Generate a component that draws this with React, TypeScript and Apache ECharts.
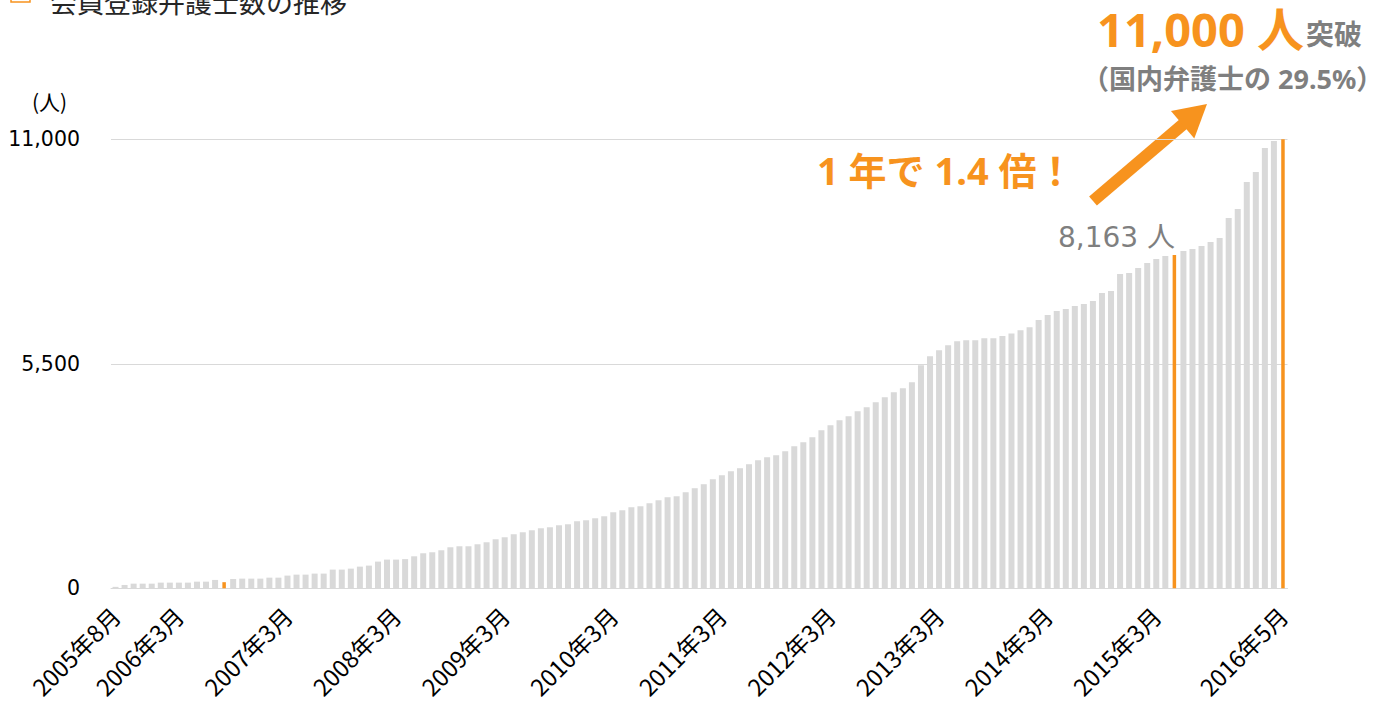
import React, { useEffect, useRef } from "react";
import * as echarts from "echarts";

const START_YEAR = 2005;
const START_MONTH = 8;

// Registered lawyers per month, 2005年8月 .. 2016年5月
const COUNTS: number[] = [
  35, 82, 114, 114, 114, 139, 139, 139, 139, 163,
  163, 205, 150, 228, 237, 237, 237, 261, 261, 311,
  335, 335, 360, 360, 458, 458, 482, 531, 556, 654,
  703, 703, 715, 784, 858, 883, 932, 1005, 1030, 1030,
  1079, 1128, 1201, 1250, 1324, 1373, 1422, 1471, 1495, 1544,
  1569, 1643, 1667, 1716, 1765, 1863, 1912, 1986, 2010, 2084,
  2157, 2231, 2255, 2353, 2452, 2550, 2672, 2770, 2868, 2942,
  3040, 3138, 3211, 3260, 3359, 3481, 3579, 3702, 3873, 3996,
  4118, 4217, 4339, 4437, 4560, 4682, 4805, 4903, 5050, 5467,
  5687, 5835, 5957, 6055, 6080, 6080, 6129, 6129, 6180, 6240,
  6320, 6398, 6570, 6693, 6791, 6840, 6913, 6962, 7036, 7232,
  7281, 7698, 7722, 7845, 7967, 8065, 8139, 8163, 8262, 8311,
  8384, 8482, 8580, 9071, 9291, 9953, 10198, 10787, 10958, 11040,
];

const HIGHLIGHT_MONTHS: string[] = ["2006年8月", "2015年5月", "2016年5月"];

const SHOWN_LABELS: string[] = [
  "2005年8月", "2006年3月", "2007年3月", "2008年3月", "2009年3月", "2010年3月",
  "2011年3月", "2012年3月", "2013年3月", "2014年3月", "2015年3月", "2016年5月",
];

const Y_TICKS: number[] = [0, 5500, 11000];

const TITLE = "会員登録弁護士数の推移";
const UNIT = "(人)";
const HEAD_NUMBER = "11,000 人";
const HEAD_SUFFIX = "突破";
const HEAD_SUB = "（国内弁護士の 29.5%）";
const GROWTH = "1 年で 1.4 倍！";
const PREV_LABEL = "8,163 人";

const ORANGE = "#F7931E";
const BAR_GRAY = "#D9D9D9";
const TEXT_GRAY = "#7F7F7F";

function buildCategories(n: number): string[] {
  const out: string[] = [];
  for (let i = 0; i < n; i++) {
    const m0 = START_MONTH - 1 + i;
    const y = START_YEAR + Math.floor(m0 / 12);
    const m = (m0 % 12) + 1;
    out.push(`${y}年${m}月`);
  }
  return out;
}

export default function App() {
  const ref = useRef<HTMLDivElement>(null);

  useEffect(() => {
    if (!ref.current) return;
    const chart = echarts.init(ref.current, null, { renderer: "svg" });
    const categories = buildCategories(COUNTS.length);
    const grayData = COUNTS.map((v, i) =>
      HIGHLIGHT_MONTHS.includes(categories[i]) ? "-" : v
    );
    const orangeData = COUNTS.map((v, i) =>
      HIGHLIGHT_MONTHS.includes(categories[i]) ? v : "-"
    );

    // arrow geometry (annotation)
    const tail = [1093, 201];
    const tip = [1207, 104];
    const dx = tip[0] - tail[0];
    const dy = tip[1] - tail[1];
    const len = Math.sqrt(dx * dx + dy * dy);
    const ux = dx / len, uy = dy / len;
    const px = -uy, py = ux;
    const headLen = 32, headHalf = 18;
    const bx = tip[0] - ux * headLen, by = tip[1] - uy * headLen;

    const jp = "'Noto Sans', 'Noto Sans CJK JP', sans-serif";

    chart.setOption({
      animation: false,
      backgroundColor: "#ffffff",
      grid: { left: 111, right: 105.5, top: 139.3, bottom: 113.7, containLabel: false },
      xAxis: [
        {
          type: "category",
          data: categories,
          boundaryGap: true,
          axisLine: { lineStyle: { color: BAR_GRAY, width: 1 } },
          axisTick: { show: false },
          axisLabel: {
            rotate: 45,
            interval: (i: number, v: string) => SHOWN_LABELS.includes(v),
            color: "#000",
            fontSize: 23.5,
            fontFamily: "'Noto Sans CJK JP', sans-serif",
            margin: 23,
          },
        },
        {
          type: "category",
          data: categories,
          show: false,
        },
      ],
      yAxis: {
        type: "value",
        min: Y_TICKS[0],
        max: Y_TICKS[Y_TICKS.length - 1],
        interval: Y_TICKS[1] - Y_TICKS[0],
        axisLine: { show: false },
        axisTick: { show: false },
        splitLine: { lineStyle: { color: BAR_GRAY, width: 1 } },
        axisLabel: {
          color: "#000",
          fontSize: 20.5,
          fontFamily: "'DejaVu Sans', sans-serif",
          margin: 31,
          formatter: (v: number) => v.toLocaleString("en-US"),
        },
      },
      series: [
        {
          type: "bar",
          xAxisIndex: 0,
          data: grayData,
          barWidth: 6,
          itemStyle: { color: BAR_GRAY },
          silent: true,
        },
        {
          type: "bar",
          xAxisIndex: 1,
          data: orangeData,
          barWidth: 3.5,
          itemStyle: { color: ORANGE },
          silent: true,
        },
      ],
      graphic: [
        {
          type: "rect",
          shape: { x: 11, y: -17, width: 19, height: 19 },
          style: { fill: "none", stroke: ORANGE, lineWidth: 1.5 },
        },
        {
          type: "text",
          x: 50,
          y: 1,
          style: {
            text: TITLE,
            fill: "#262626",
            font: "27px 'Noto Sans CJK JP', sans-serif",
            textAlign: "left",
            textVerticalAlign: "middle",
          },
        },
        {
          type: "text",
          x: 32,
          y: 101,
          style: {
            text: UNIT,
            fill: "#000",
            font: "21px 'Noto Sans CJK JP', sans-serif",
            textAlign: "left",
            textVerticalAlign: "middle",
          },
        },
        {
          type: "text",
          x: 1097,
          y: 29,
          style: {
            text: HEAD_NUMBER,
            fill: ORANGE,
            font: `bold 47px ${jp}`,
            textAlign: "left",
            textVerticalAlign: "middle",
          },
        },
        {
          type: "text",
          x: 1306,
          y: 34,
          style: {
            text: HEAD_SUFFIX,
            fill: TEXT_GRAY,
            font: `bold 28px ${jp}`,
            textAlign: "left",
            textVerticalAlign: "middle",
          },
        },
        {
          type: "text",
          x: 1082,
          y: 78,
          style: {
            text: HEAD_SUB,
            fill: TEXT_GRAY,
            font: `bold 27px ${jp}`,
            textAlign: "left",
            textVerticalAlign: "middle",
          },
        },
        {
          type: "text",
          x: 817,
          y: 170,
          style: {
            text: GROWTH,
            fill: ORANGE,
            font: `bold 38px ${jp}`,
            textAlign: "left",
            textVerticalAlign: "middle",
          },
        },
        {
          type: "text",
          x: 1058,
          y: 237,
          style: {
            text: PREV_LABEL,
            fill: TEXT_GRAY,
            font: "28px 'DejaVu Sans', 'Noto Sans CJK JP', sans-serif",
            textAlign: "left",
            textVerticalAlign: "middle",
          },
        },
        {
          type: "line",
          shape: { x1: tail[0], y1: tail[1], x2: bx + ux * 2, y2: by + uy * 2 },
          style: { stroke: ORANGE, lineWidth: 12, lineCap: "butt" },
        },
        {
          type: "polygon",
          shape: {
            points: [
              [tip[0], tip[1]],
              [bx + px * headHalf, by + py * headHalf],
              [bx - px * headHalf, by - py * headHalf],
            ],
          },
          style: { fill: ORANGE },
        },
      ],
    });
    return () => chart.dispose();
  }, []);

  return (
    <div
      ref={ref}
      style={{ position: "fixed", left: 0, top: 0, width: 1393, height: 702 }}
    />
  );
}
